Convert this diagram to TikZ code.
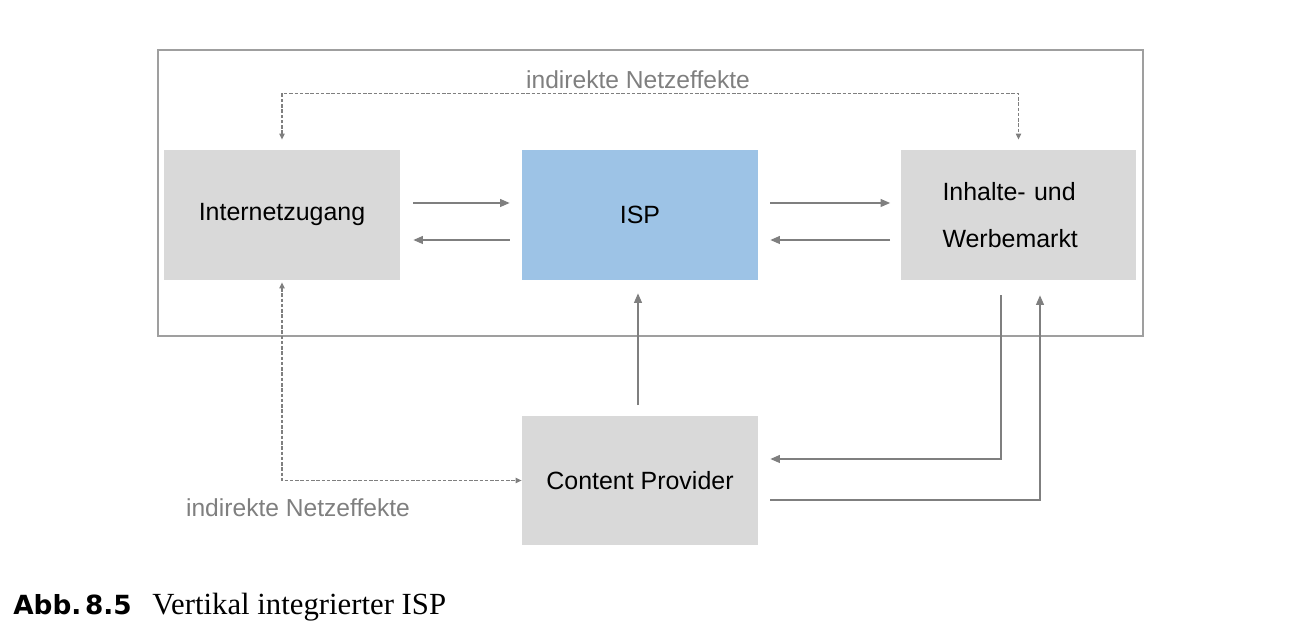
\documentclass[tikz,border=0pt]{standalone}
\usepackage{fontspec}
\setmainfont{Liberation Sans}
\newfontfamily\capserif{Liberation Serif}
\newfontfamily\capsans{DejaVu Sans}
\usetikzlibrary{calc,arrows.meta}
\definecolor{boxgray}{HTML}{D9D9D9}
\definecolor{ispblue}{HTML}{9DC3E6}
\definecolor{linegray}{HTML}{7F7F7F}
\begin{document}
\begin{tikzpicture}[>={Triangle[length=5.5pt,width=4.5pt]},x=0.02cm,y=0.02cm,
	box/.style={fill=boxgray,minimum width=4.72cm,minimum height=2.6cm,align=center,font=\fontsize{14.2}{27}\selectfont},
	flow/.style={->,draw=linegray,line width=0.9pt},
	effect/.style={{Triangle[length=3.5pt,width=3pt]}-{Triangle[length=3.5pt,width=3pt]},draw=linegray,line width=0.8pt,dash pattern=on 2pt off 1pt},
	note/.style={text=linegray,font=\fontsize{14}{16}\selectfont}]
		\useasboundingbox (0,0) rectangle (1303,639);
		\draw[linegray!75,line width=0.6pt] (158,303) rectangle (1143,589);
		\node[box] (inet) at (282,424) {Internetzugang};
		\node[box,fill=ispblue] (isp) at (640,424) {ISP};
		\node[box,align=left,text width=3.04cm,inner xsep=0.84cm] (markt) at (1018.5,424) {Inhalte- und\\Werbemarkt};
		\node[box] (cp) at (640,158.5) {Content Provider};
		\draw[flow] ($(inet.east)+(13,12)$) -- ($(isp.west)+(-12,12)$);
		\draw[flow] ($(isp.west)+(-12,-25)$) -- ($(inet.east)+(13,-25)$);
		\draw[flow] ($(isp.east)+(12,12)$) -- ($(markt.west)+(-10,12)$);
		\draw[flow] ($(markt.west)+(-10,-25)$) -- ($(isp.east)+(12,-25)$);
		\draw[flow] ($(cp.north)+(-2,10)$) -- ($(isp.south)+(-2,-13)$);
		\draw[flow] ($(markt.south)+(-17.5,-15)$) |- ($(cp.east)+(12,21.5)$);
		\draw[flow] ($(cp.east)+(12,-19.5)$) -| ($(markt.south)+(21.5,-15)$);
		\draw[effect] ($(inet.north)+(0,10)$) -- ++(0,46) -| ($(markt.north)+(0,10)$);
		\draw[effect] ($(inet.south)+(0,-2)$) |- (cp.west);
		\node[note] (topnote) at (638,559) {indirekte Netzeffekte};
		\node[note] (bottomnote) at (298,131) {indirekte Netzeffekte};
		\node[anchor=base west,inner sep=0] (capnum) at (13,24) {\capsans\bfseries\fontsize{15}{18}\selectfont Abb.\kern2pt8.5};
		\node[anchor=base west,inner sep=0] (captext) at (152,24) {\capserif\fontsize{17.5}{20}\selectfont Vertikal integrierter ISP};
\end{tikzpicture}
\end{document}
